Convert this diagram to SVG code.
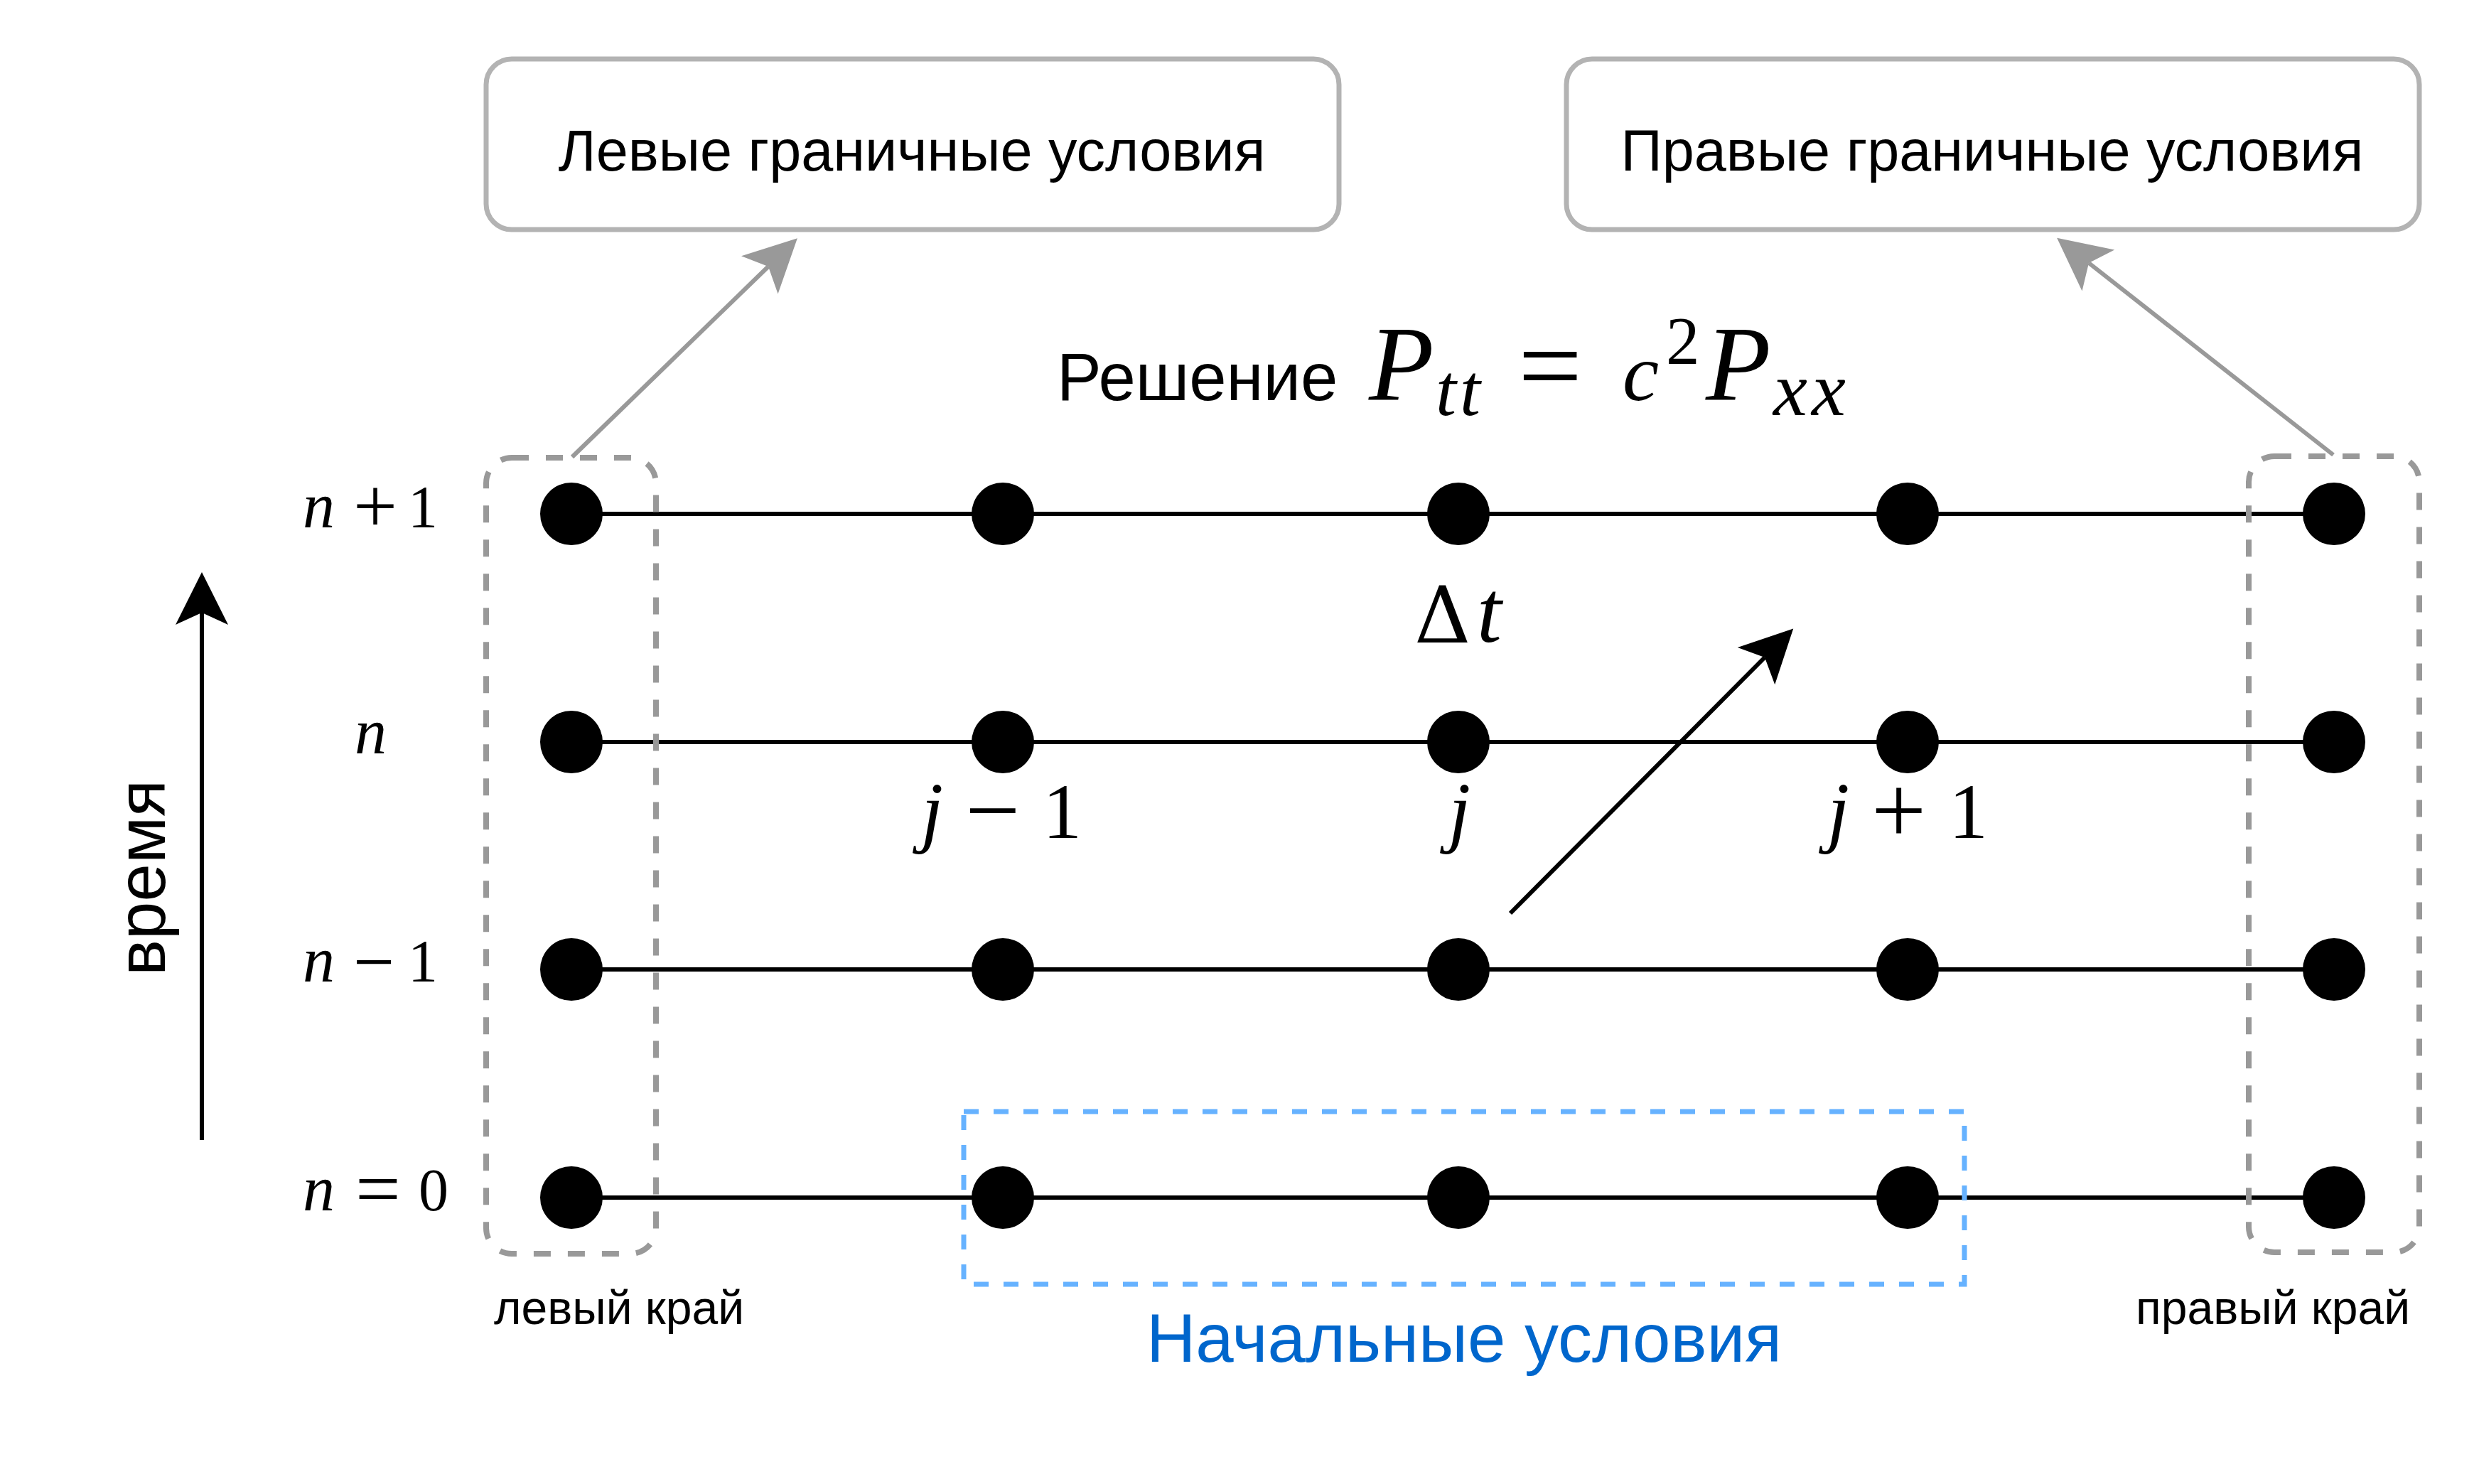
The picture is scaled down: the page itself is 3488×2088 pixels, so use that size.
<svg xmlns="http://www.w3.org/2000/svg" width="3488" height="2088" viewBox="0 0 3488 2088">
<style>
.sans{font-family:"Liberation Sans",Arial,sans-serif;fill:#000}
.mi{font-family:"Liberation Serif","Times New Roman",serif;font-style:italic;fill:#000}
.mo{font-family:"Liberation Serif","Times New Roman",serif;fill:#000}
.box{fill:#fff;stroke:#b3b3b3;stroke-width:7}
.edge{fill:none;stroke:#999;stroke-width:8;stroke-dasharray:24 24}
.init{fill:none;stroke:#66b2ff;stroke-width:7;stroke-dasharray:21 21}
.row{stroke:#000;stroke-width:6}
.pt{fill:#000}
.garrow{fill:none;stroke:#999;stroke-width:6}
.barrow{fill:none;stroke:#000;stroke-width:6}
</style>
<defs>
<marker id="hg" markerUnits="userSpaceOnUse" markerWidth="74" markerHeight="74" refX="17" refY="37" orient="auto" overflow="visible"><path d="M0,0 L74,37 L0,74 L17,37 Z" fill="#999"/></marker>
<marker id="hb" markerUnits="userSpaceOnUse" markerWidth="74" markerHeight="74" refX="17" refY="37" orient="auto" overflow="visible"><path d="M0,0 L74,37 L0,74 L17,37 Z" fill="#000"/></marker>
</defs>
<rect width="3488" height="2088" fill="#fff"/>

<g id="grid-lines">
<line class="row" x1="804" y1="723" x2="3284" y2="723"/>
<line class="row" x1="804" y1="1044" x2="3284" y2="1044"/>
<line class="row" x1="804" y1="1364" x2="3284" y2="1364"/>
<line class="row" x1="804" y1="1685" x2="3284" y2="1685"/>
</g>

<g id="left-edge-box"><rect class="edge" x="684" y="644" width="239" height="1120" rx="36"/></g>
<g id="right-edge-box"><rect class="edge" x="3164" y="642" width="240" height="1120" rx="36"/></g>
<g id="initial-box"><rect class="init" x="1356" y="1564" width="1408" height="243"/></g>

<g id="points">
<circle class="pt" cx="804" cy="723" r="44"/><circle class="pt" cx="1411" cy="723" r="44"/><circle class="pt" cx="2052" cy="723" r="44"/><circle class="pt" cx="2684" cy="723" r="44"/><circle class="pt" cx="3284" cy="723" r="44"/>
<circle class="pt" cx="804" cy="1044" r="44"/><circle class="pt" cx="1411" cy="1044" r="44"/><circle class="pt" cx="2052" cy="1044" r="44"/><circle class="pt" cx="2684" cy="1044" r="44"/><circle class="pt" cx="3284" cy="1044" r="44"/>
<circle class="pt" cx="804" cy="1364" r="44"/><circle class="pt" cx="1411" cy="1364" r="44"/><circle class="pt" cx="2052" cy="1364" r="44"/><circle class="pt" cx="2684" cy="1364" r="44"/><circle class="pt" cx="3284" cy="1364" r="44"/>
<circle class="pt" cx="804" cy="1685" r="44"/><circle class="pt" cx="1411" cy="1685" r="44"/><circle class="pt" cx="2052" cy="1685" r="44"/><circle class="pt" cx="2684" cy="1685" r="44"/><circle class="pt" cx="3284" cy="1685" r="44"/>
</g>

<g id="left-bc">
<rect class="box" x="684" y="83" width="1200" height="240" rx="36"/>
<text class="sans" x="1283" y="240" font-size="81" text-anchor="middle">Левые граничные условия</text>
</g>
<g id="right-bc">
<rect class="box" x="2204" y="83" width="1200" height="240" rx="36"/>
<text class="sans" x="2803" y="240" font-size="81" text-anchor="middle">Правые граничные условия</text>
</g>

<g id="title">
<text><tspan class="sans" x="1487" y="563" font-size="94">Решение</tspan><tspan class="mi" x="1926" y="563" font-size="150">P</tspan><tspan class="mi" x="2020" y="584" font-size="104">t</tspan><tspan class="mi" x="2054" y="584" font-size="104">t</tspan><tspan class="mo" x="2136" y="568" font-size="160">=</tspan><tspan class="mi" x="2283" y="563" font-size="115">c</tspan><tspan class="mo" x="2344" y="512" font-size="95">2</tspan><tspan class="mi" x="2400" y="563" font-size="150">P</tspan><tspan class="mi" x="2495" y="584" font-size="108">x</tspan><tspan class="mi" x="2549" y="584" font-size="108">x</tspan></text>
</g>

<g id="row-labels">
<text><tspan class="mi" x="426" y="742" font-size="90">n</tspan><tspan class="mo" x="497" y="749" font-size="110">+</tspan><tspan class="mo" x="574" y="742" font-size="84">1</tspan></text>
<text><tspan class="mi" x="499" y="1060" font-size="90">n</tspan></text>
<text><tspan class="mi" x="426" y="1381" font-size="90">n</tspan><tspan class="mo" x="497" y="1388" font-size="103">−</tspan><tspan class="mo" x="574" y="1381" font-size="84">1</tspan></text>
<text><tspan class="mi" x="426" y="1703" font-size="90">n</tspan><tspan class="mo" x="500" y="1710" font-size="113">=</tspan><tspan class="mo" x="589" y="1703" font-size="84">0</tspan></text>
</g>

<g id="col-labels">
<text><tspan class="mi" x="1296" y="1178" font-size="112">j</tspan><tspan class="mo" x="1358" y="1186" font-size="137">−</tspan><tspan class="mo" x="1467" y="1179" font-size="110">1</tspan></text>
<text><tspan class="mi" x="2038" y="1178" font-size="112">j</tspan></text>
<text><tspan class="mi" x="2571" y="1178" font-size="112">j</tspan><tspan class="mo" x="2633" y="1186" font-size="137">+</tspan><tspan class="mo" x="2742" y="1179" font-size="110">1</tspan></text>
</g>

<g id="dt-label">
<text><tspan x="1990" y="904" font-size="110" font-family="'DejaVu Serif',serif">Δ</tspan><tspan class="mi" x="2078" y="903" font-size="125">t</tspan></text>
</g>

<g id="time-axis-label">
<text class="sans" transform="translate(232,1235) rotate(-90)" x="0" y="0" font-size="96" text-anchor="middle">время</text>
</g>

<g id="edge-labels">
<text class="sans" x="871" y="1863" font-size="66" text-anchor="middle">левый край</text>
<text class="sans" x="3198" y="1863" font-size="66" text-anchor="middle">правый край</text>
</g>

<g id="initial-label">
<text x="2060" y="1916" font-size="96" text-anchor="middle" font-family="'Liberation Sans',Arial,sans-serif" fill="#0066cc">Начальные условия</text>
</g>

<g id="connectors">
<line class="garrow" x1="805" y1="643" x2="1081" y2="375" marker-end="url(#hg)"/>
<line class="garrow" x1="3283" y1="640" x2="2939" y2="370" marker-end="url(#hg)"/>
<line class="barrow" x1="2125" y1="1285" x2="2483" y2="925" marker-end="url(#hb)"/>
<line class="barrow" x1="284" y1="1604" x2="284" y2="862" stroke-width="8" marker-end="url(#hb)"/>
</g>
</svg>
